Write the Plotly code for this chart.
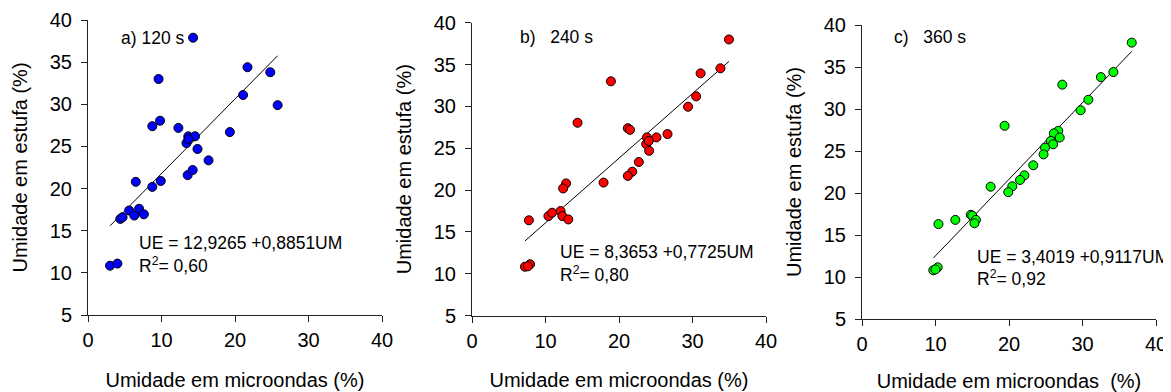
import plotly.graph_objects as go

# ---------------- data ----------------
# a) 120 s
xa = [14.3, 21.7, 24.8, 9.6, 21.1, 25.8, 8.75, 9.8, 12.3, 19.3, 13.65, 14.56, 13.4, 13.65,
      14.9, 16.4, 13.56, 14.24, 6.5, 9.9, 8.75, 4.4, 4.7, 5.6, 6.3, 6.95, 7.6, 3.0, 4.0]
ya = [37.9, 34.4, 33.8, 33.0, 31.1, 29.9, 27.4, 28.05, 27.2, 26.7, 26.2, 26.2, 25.4, 25.85,
      24.7, 23.35, 21.6, 22.2, 20.8, 20.9, 20.2, 16.4, 16.6, 17.4, 16.8, 17.6, 16.95, 10.85, 11.1]
# b) 240 s
xb = [34.96, 33.8, 31.1, 18.9, 30.5, 29.4, 14.36, 21.2, 21.5, 26.6, 25.1, 23.8, 23.7, 24.05,
      24.1, 22.7, 21.8, 21.2, 17.9, 12.8, 12.4, 7.74, 10.4, 10.9, 12.05, 12.3, 13.1, 7.2, 7.9, 7.6]
yb = [38.0, 34.55, 33.95, 33.0, 31.2, 29.96, 28.05, 27.4, 27.2, 26.7, 26.3, 26.3, 25.5, 25.87,
      24.7, 23.36, 22.2, 21.7, 20.9, 20.8, 20.2, 16.4, 16.9, 17.3, 17.5, 16.9, 16.5, 10.85, 11.15, 10.9]
# c) 360 s
xc = [36.7, 34.2, 32.5, 27.25, 30.8, 29.75, 19.4, 26.7, 26.1, 26.9, 25.7, 26.0, 24.9, 24.7,
      23.3, 22.1, 21.5, 17.5, 20.45, 19.9, 10.4, 12.7, 14.8, 15.0, 15.5, 15.3, 9.7, 10.3, 10.0]
yc = [37.9, 34.4, 33.8, 32.9, 31.1, 29.85, 28.0, 27.4, 27.1, 26.6, 26.2, 25.8, 25.4, 24.6,
      23.3, 22.1, 21.55, 20.75, 20.8, 20.1, 16.3, 16.8, 17.4, 17.3, 16.8, 16.4, 10.8, 11.15, 10.9]

# regression coefficients (intercept, slope) and R2 texts
coef_a = (12.9265, 0.8851)
coef_b = (8.3653, 0.7725)
coef_c = (3.4019, 0.9117)
eq_texts = ["UE = 12,9265 +0,8851UM", "UE = 8,3653 +0,7725UM", "UE = 3,4019 +0,9117UM"]
r2_texts = ["R<sup>2</sup>= 0,60", "R<sup>2</sup>= 0,80", "R<sup>2</sup>= 0,92"]
panel_labels = ["a) 120 s", "b)\u00a0\u00a0\u00a0240 s", "c)\u00a0\u00a0\u00a0360 s"]
x_titles = ["Umidade em microondas (%)", "Umidade em microondas (%)", "Umidade em microondas\u00a0\u00a0(%)"]
y_title = "Umidade em estufa (%)"
x_ticks = [0, 10, 20, 30, 40]
y_ticks = [5, 10, 15, 20, 25, 30, 35, 40]
colors = ["#0000FF", "#FF0000", "#00FF00"]

W, H = 1171, 392
OFF = 8  # the page body has an 8px default margin
FONT = "Liberation Sans, Arial, sans-serif"

panels = [
    dict(x=xa, y=ya, coef=coef_a, px=(88, 382), py=(20, 315), lab=(4.2, 37.9), eq=(6.7, 13.5), r2=(6.7, 10.9), xs=22),
    dict(x=xb, y=yb, coef=coef_b, px=(472, 766), py=(22.7, 315.7), lab=(6.3, 38.3), eq=(11.7, 12.6), r2=(11.7, 10.0), xs=22),
    dict(x=xc, y=yc, coef=coef_c, px=(862, 1156), py=(25, 319), lab=(4.1, 38.6), eq=(15.4, 12.4), r2=(15.4, 9.85), xs=19),
]

fig = go.Figure()
annotations = []
for i, p in enumerate(panels):
    n = i + 1
    xr = "x" if n == 1 else f"x{n}"
    yr = "y" if n == 1 else f"y{n}"
    b0, b1 = p["coef"]
    xmin, xmax = min(p["x"]), max(p["x"])
    fig.add_trace(go.Scatter(x=[xmin, xmax], y=[b0 + b1 * xmin, b0 + b1 * xmax], mode="lines",
                             line=dict(color="black", width=1), xaxis=xr, yaxis=yr,
                             showlegend=False, hoverinfo="skip"))
    fig.add_trace(go.Scatter(x=p["x"], y=p["y"], mode="markers",
                             marker=dict(color=colors[i], size=9, line=dict(color="black", width=1)),
                             xaxis=xr, yaxis=yr, showlegend=False, cliponaxis=False))
    axx = dict(domain=[(p["px"][0] - OFF) / W, (p["px"][1] - OFF) / W], range=[0, 40], tickvals=x_ticks,
               showgrid=False, zeroline=False, showline=True, linecolor="#222", linewidth=1,
               ticks="outside", ticklen=6, tickcolor="#222", tickfont=dict(size=20, color="black"),
               ticklabelstandoff=1, automargin=False,
               title=dict(text=x_titles[i], font=dict(size=20, color="black"), standoff=p["xs"]),
               anchor=yr, fixedrange=True)
    axy = dict(domain=[1 - (p["py"][1] - OFF) / H, 1 - (p["py"][0] - OFF) / H], range=[5, 40], tickvals=y_ticks,
               showgrid=False, zeroline=False, showline=True, linecolor="#222", linewidth=1,
               ticks="outside", ticklen=6, tickcolor="#222", tickfont=dict(size=20, color="black"),
               ticklabelstandoff=5, automargin=False,
               title=dict(text=y_title, font=dict(size=20, color="black"), standoff=16),
               anchor=xr, fixedrange=True)
    fig.layout["xaxis" if n == 1 else f"xaxis{n}"] = axx
    fig.layout["yaxis" if n == 1 else f"yaxis{n}"] = axy
    for key, txt in (("lab", panel_labels[i]), ("eq", eq_texts[i]), ("r2", r2_texts[i])):
        annotations.append(dict(x=p[key][0], y=p[key][1], xref=xr, yref=yr, text=txt,
                                showarrow=False, xanchor="left", yanchor="middle",
                                font=dict(size=17.5, color="black")))

fig.update_layout(width=W, height=H, margin=dict(l=0, r=0, t=0, b=0, autoexpand=False),
                  paper_bgcolor="white", plot_bgcolor="white",
                  font=dict(family=FONT, color="black"), annotations=annotations)
fig.write_html("out.html")
